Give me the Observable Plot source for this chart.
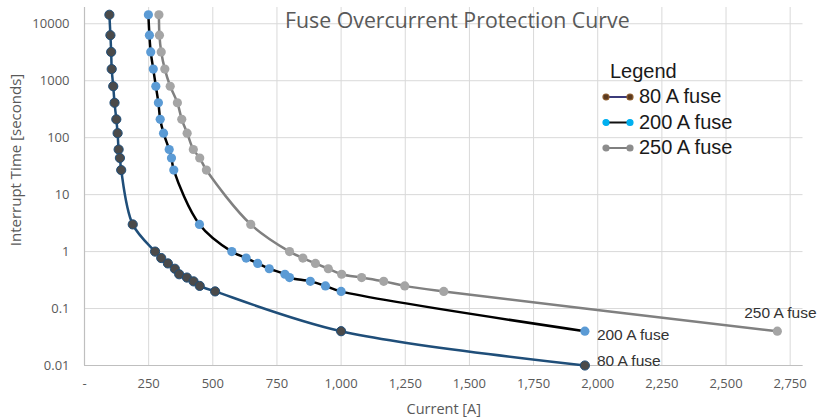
<!DOCTYPE html>
<html><head><meta charset="utf-8">
<script src="https://cdn.jsdelivr.net/npm/d3@7"></script>
<script src="https://cdn.jsdelivr.net/npm/@observablehq/plot@0.6"></script>
<style>
body{margin:0;background:#fff;}
#wrap{position:relative;width:818px;height:418px;overflow:hidden;}
#title{position:absolute;left:285px;top:5px;font-family:"Open Sans";font-size:21.3px;color:#595959;white-space:nowrap;line-height:30px;}
#ylabel{position:absolute;left:15px;top:160px;transform:translate(-50%,-50%) rotate(-90deg);font-family:"Open Sans";font-size:15px;color:#595959;white-space:nowrap;line-height:18px;}
#legend{position:absolute;left:598px;top:52px;}
</style></head>
<body>
<div id="wrap"><div id="chart"></div><div id="title">Fuse Overcurrent Protection Curve</div><div id="ylabel">Interrupt Time [seconds]</div><div id="legend"></div></div>
<script>
// ---- data ----
const fuseNames = ["80 A fuse", "200 A fuse", "250 A fuse"];

const current80 = [97, 101, 104, 106, 112, 117, 124, 129, 133, 138, 143, 188, 275, 299, 325, 352, 369, 399, 425, 449, 509, 1000, 1950];
const time80    = [14400, 6300, 3200, 1600, 800, 410, 210, 120, 62, 44, 27, 3, 1, 0.77, 0.62, 0.5, 0.4, 0.35, 0.3, 0.25, 0.2, 0.04, 0.01];

const current200 = [249, 253, 258, 268, 278, 288, 295, 308, 330, 339, 348, 448, 574, 630, 675, 720, 781, 799, 880, 939, 1000, 1950];
const time200    = [14400, 6300, 3200, 1600, 800, 410, 210, 120, 62, 44, 27, 3, 1, 0.77, 0.62, 0.5, 0.4, 0.35, 0.3, 0.25, 0.2, 0.04];

const current250 = [290, 292, 299, 313, 334, 362, 379, 400, 424, 449, 475, 648, 799, 851, 900, 950, 1002, 1080, 1166, 1248, 1400, 2700];
const time250    = [14400, 6300, 3200, 1600, 800, 410, 210, 120, 62, 44, 27, 3, 1, 0.77, 0.62, 0.5, 0.4, 0.35, 0.3, 0.25, 0.2, 0.04];

const xTicks = [0, 250, 500, 750, 1000, 1250, 1500, 1750, 2000, 2250, 2500, 2750];
const yTicks = [0.01, 0.1, 1, 10, 100, 1000, 10000];

// ---- build ----
const toRows = (name, cur, t) => cur.map((c, i) => ({fuse: name, current: c, time: t[i]}));
const rows80 = toRows(fuseNames[0], current80, time80);
const rows200 = toRows(fuseNames[1], current200, time200);
const rows250 = toRows(fuseNames[2], current250, time250);

const styles = {
  "80 A fuse":  {line: "#1f4e79", dotFill: "#4a4a4a", dotStroke: "#1f4e79"},
  "200 A fuse": {line: "#000000", dotFill: "#5b9bd5", dotStroke: "none"},
  "250 A fuse": {line: "#808080", dotFill: "#a5a5a5", dotStroke: "none"}
};

function seriesMarks(rows) {
  const s = styles[rows[0].fuse];
  return [
    Plot.line(rows, {x: "current", y: "time", stroke: s.line, strokeWidth: 2.5, curve: "catmull-rom"}),
    Plot.dot(rows, {x: "current", y: "time", r: 4.6, fill: s.dotFill, stroke: s.dotStroke, strokeWidth: 1})
  ];
}

const lastOf = rows => [rows[rows.length - 1]];
const labelFont = {fontFamily: "Liberation Sans, Arial, sans-serif", fontSize: 15.5, fill: "#333"};

const chart = Plot.plot({
  width: 818,
  height: 418,
  marginLeft: 84,
  marginRight: 15.5,
  marginTop: 7,
  marginBottom: 53,
  style: {fontFamily: "Open Sans", background: "#fff", overflow: "visible"},
  x: {domain: [0, 2800]},
  y: {type: "log", domain: [0.01, 19300]},
  marks: [
    Plot.gridX(xTicks, {stroke: "#d9d9d9", strokeOpacity: 1, strokeWidth: 1}),
    Plot.gridY(yTicks, {stroke: "#d9d9d9", strokeOpacity: 1, strokeWidth: 1}),
    Plot.ruleX([0], {stroke: "#bfbfbf", strokeWidth: 1.2}),
    Plot.ruleY([0.01], {stroke: "#bfbfbf", strokeWidth: 1.2}),
    Plot.axisX(xTicks, {tickSize: 0, tickPadding: 13, fontSize: 13, fill: "#595959", label: null,
      tickFormat: d => d === 0 ? "-" : d3.format(",")(d)}),
    Plot.axisY(yTicks, {tickSize: 0, tickPadding: 15, fontSize: 13, fill: "#595959", label: null,
      tickFormat: d => String(d)}),
    Plot.text(["Current [A]"], {frameAnchor: "bottom", dy: 48, fontSize: 14.5, fill: "#595959"}),
    ...seriesMarks(rows80),
    ...seriesMarks(rows200),
    ...seriesMarks(rows250),
    Plot.text(lastOf(rows200), {x: "current", y: "time", text: "fuse", textAnchor: "start", dx: 12, dy: 4, ...labelFont}),
    Plot.text(lastOf(rows80), {x: "current", y: "time", text: "fuse", textAnchor: "start", dx: 12, dy: -4, ...labelFont}),
    Plot.text(lastOf(rows250), {x: "current", y: "time", text: "fuse", textAnchor: "middle", dx: 3, dy: -18, ...labelFont})
  ]
});
document.getElementById("chart").appendChild(chart);

// ---- legend ----
const legendSwatch = {
  "80 A fuse":  {line: "#3b3b7a", dotFill: "#5a3a20", dotStroke: "#8b5a2b"},
  "200 A fuse": {line: "#111111", dotFill: "#00b0f0", dotStroke: "#00b0f0"},
  "250 A fuse": {line: "#7f7f7f", dotFill: "#8c8c8c", dotStroke: "#8c8c8c"}
};
const lg = d3.select("#legend").append("svg").attr("width", 215).attr("height", 115)
  .style("font-family", "Liberation Sans, Arial, sans-serif");
lg.append("text").attr("x", 12).attr("y", 26).attr("font-size", 20).attr("fill", "#1a1a1a").text("Legend");
fuseNames.forEach((name, i) => {
  const y = 51 + i * 25.5;
  const s = legendSwatch[name];
  const g = lg.append("g");
  g.append("line").attr("x1", 8).attr("x2", 32).attr("y1", y - 6).attr("y2", y - 6).attr("stroke", s.line).attr("stroke-width", 2);
  [8, 32].forEach(cx => g.append("circle").attr("cx", cx).attr("cy", y - 6).attr("r", 3).attr("fill", s.dotFill).attr("stroke", s.dotStroke).attr("stroke-width", 1.2));
  g.append("text").attr("x", 41).attr("y", y).attr("font-size", 20).attr("fill", "#1a1a1a").text(name);
});
</script>
</body></html>
